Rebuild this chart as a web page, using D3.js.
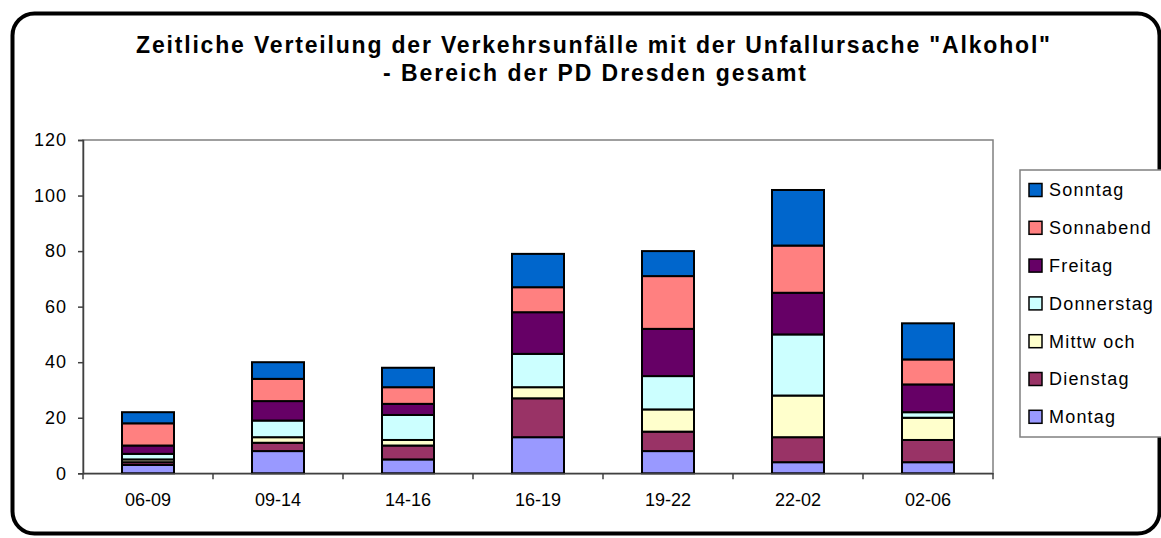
<!DOCTYPE html>
<html><head><meta charset="utf-8">
<script src="https://cdn.jsdelivr.net/npm/d3@7/dist/d3.min.js"></script>
<style>body{margin:0;background:#fff;}svg{display:block;font-family:"Liberation Sans",Arial,sans-serif;}</style>
</head><body>
<svg id="c" width="1161" height="538"></svg>
<script>
const categories = ["06-09","09-14","14-16","16-19","19-22","22-02","02-06"];
const seriesNames = ["Montag","Dienstag","Mittwoch","Donnerstag","Freitag","Sonnabend","Sonntag"];
const legendLabels = ["Montag","Dienstag","Mittw och","Donnerstag","Freitag","Sonnabend","Sonntag"];
const montag     = [3, 8, 5, 13, 8, 4, 4];
const dienstag   = [1, 3, 5, 14, 7, 9, 8];
const mittwoch   = [1, 2, 2, 4, 8, 15, 8];
const donnerstag = [2, 6, 9, 12, 12, 22, 2];
const freitag    = [3, 7, 4, 15, 17, 15, 10];
const sonnabend  = [8, 8, 6, 9, 19, 17, 9];
const sonntag    = [4, 6, 7, 12, 9, 20, 13];
const yTicks = [0,20,40,60,80,100,120];
const colors = ["#9999FF","#993366","#FFFFCC","#CCFFFF","#660066","#FF8080","#0066CC"];
const titleLines = ["Zeitliche Verteilung der Verkehrsunfälle mit der Unfallursache \"Alkohol\"", "- Bereich der PD Dresden gesamt"];

const values = [montag,dienstag,mittwoch,donnerstag,freitag,sonnabend,sonntag];
const table = categories.map((c,i)=>{const o={cat:c}; seriesNames.forEach((s,j)=>o[s]=values[j][i]); return o;});
const stack = d3.stack().keys(seriesNames)(table);

const svg = d3.select("#c");
// outer rounded border
svg.append("rect").attr("x",12.5).attr("y",13.5).attr("width",1147).attr("height",520)
  .attr("rx",22).attr("ry",22).attr("fill","none").attr("stroke","#000").attr("stroke-width",4);

// title
svg.append("text").attr("x",593).attr("y",53).attr("text-anchor","middle")
  .attr("font-size",23).attr("font-weight","bold")
  .attr("textLength",914).attr("lengthAdjust","spacing").text(titleLines[0]);
svg.append("text").attr("x",594.5).attr("y",81).attr("text-anchor","middle")
  .attr("font-size",23).attr("font-weight","bold")
  .attr("textLength",423).attr("lengthAdjust","spacing").text(titleLines[1]);

const L=83, R=993, T=140, B=473.3;
const x = d3.scaleBand().domain(categories).range([L,R]).paddingInner(0).paddingOuter(0);
const y = d3.scaleLinear().domain([0,120]).range([B,T]);

// plot frame
svg.append("rect").attr("x",L).attr("y",T).attr("width",R-L).attr("height",B-T)
  .attr("fill","none").attr("stroke","#808080").attr("stroke-width",1.5);

// bars
const bw = x.bandwidth()*0.4;
svg.append("g").selectAll("g").data(stack).join("g").attr("fill",(d,i)=>colors[i])
  .selectAll("rect").data(d=>d).join("rect")
  .attr("x",d=>x(d.data.cat)+(x.bandwidth()-bw)/2)
  .attr("y",d=>y(d[1])).attr("height",d=>y(d[0])-y(d[1])).attr("width",bw)
  .attr("stroke","#000").attr("stroke-width",2);

// y axis
const ya = svg.append("g").attr("transform",`translate(${L},0)`)
  .call(d3.axisLeft(y).tickValues(yTicks).tickSize(5).tickPadding(11));
ya.select(".domain").attr("stroke","#404040").attr("stroke-width",1.5);
ya.selectAll(".tick line").attr("stroke","#404040").attr("stroke-width",1.5);
ya.selectAll("text").attr("font-size",18).attr("letter-spacing",1).attr("fill","#000").attr("font-family","Liberation Sans, Arial, sans-serif");

// x axis
const xa = svg.append("g").attr("transform",`translate(0,${B})`)
  .call(d3.axisBottom(x).tickSize(0).tickPadding(20));
xa.select(".domain").attr("stroke","#404040").attr("stroke-width",1.5);
xa.selectAll("text").attr("font-size",18).attr("fill","#000").attr("font-family","Liberation Sans, Arial, sans-serif");
// band boundary ticks
const bounds = categories.map(c=>x(c)).concat([R]);
svg.append("g").selectAll("line").data(bounds).join("line")
  .attr("x1",d=>d).attr("x2",d=>d).attr("y1",B).attr("y2",B+6)
  .attr("stroke","#404040").attr("stroke-width",1.5);

// legend
const lg = svg.append("g");
lg.append("rect").attr("x",1020).attr("y",170).attr("width",160).attr("height",267)
  .attr("fill","#fff").attr("stroke","#808080").attr("stroke-width",1.5);
const order = d3.range(seriesNames.length).reverse();
order.forEach((j,k)=>{
  const cy = 190 + k*37.8;
  lg.append("rect").attr("x",1029).attr("y",cy-6.5).attr("width",13).attr("height",13)
    .attr("fill",colors[j]).attr("stroke","#000").attr("stroke-width",1.5);
  lg.append("text").attr("x",1049).attr("y",cy).attr("dy","0.35em").attr("font-size",18)
    .attr("letter-spacing",1.2).text(legendLabels[j]);
});
</script>
</body></html>
